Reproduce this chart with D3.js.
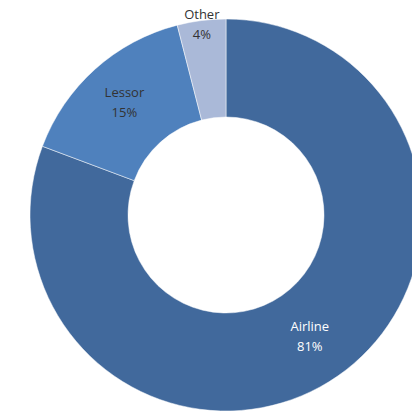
<!DOCTYPE html>
<html><head><meta charset="utf-8">
<script src="https://cdn.jsdelivr.net/npm/d3@7"></script>
<style>body{margin:0;background:#fff}svg{display:block}</style>
</head><body>
<script>
const categories = ["Airline", "Lessor", "Other"];
const values = [80.7, 15.3, 4.0];
const valueLabels = ["81%", "15%", "4%"];
const colors = ["#41699c", "#4f81bd", "#aab9d8"];
const labelColors = ["#ffffff", "#333333", "#333333"];

const W = 412, H = 411, cx = 226, cy = 215, R = 196, r0 = 98;
const svg = d3.select("body").append("svg").attr("width", W).attr("height", H);
const g = svg.append("g").attr("transform", `translate(${cx},${cy})`);
const pie = d3.pie().sort(null).value(d => d)(values);
const arc = d3.arc().innerRadius(r0).outerRadius(R);
g.selectAll("path").data(pie).join("path")
  .attr("d", arc).attr("fill", (d, i) => colors[i])
  .attr("stroke", "#ffffff").attr("stroke-width", 0.5);

const labelRadius = [147, 152, 193];
pie.forEach((d, i) => {
  const la = d3.arc().innerRadius(labelRadius[i]).outerRadius(labelRadius[i]);
  const [x, y] = la.centroid(d);
  const t = g.append("text").attr("text-anchor", "middle")
    .attr("font-family", "'Open Sans', 'Liberation Sans', sans-serif").attr("font-size", 13)
    .attr("fill", labelColors[i]);
  t.append("tspan").attr("x", x).attr("y", y - 5).text(categories[i]);
  t.append("tspan").attr("x", x).attr("y", y + 15).text(valueLabels[i]);
});
</script>
</body></html>
